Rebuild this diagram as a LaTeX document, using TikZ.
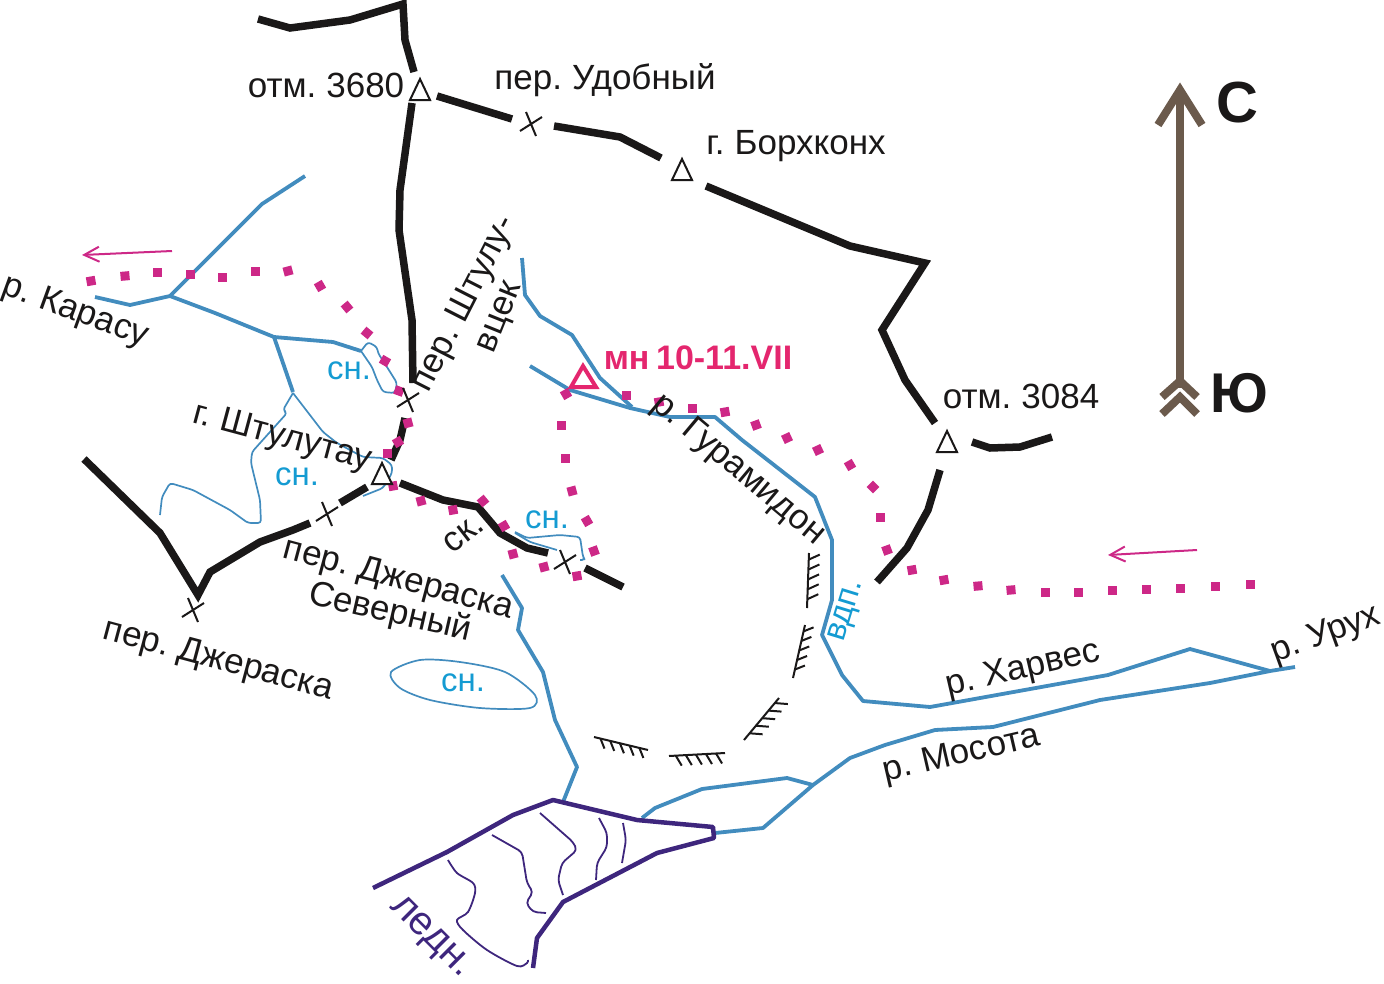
\documentclass[tikz,border=0pt]{standalone}
\usepackage{fontspec}
\setmainfont[WordSpace=0.7]{Liberation Sans}
\usetikzlibrary{arrows.meta}
\definecolor{rivercol}{RGB}{66,140,190}
\definecolor{snowcol}{RGB}{20,155,210}
\definecolor{icecol}{RGB}{62,38,125}
\definecolor{trailcol}{RGB}{205,40,135}
\definecolor{campcol}{RGB}{228,38,110}
\definecolor{compcol}{RGB}{107,90,76}
\definecolor{ridgecol}{RGB}{26,24,24}
\tikzset{
  ridge/.style={draw=ridgecol,line width=7.5pt,line join=miter},
  river/.style={draw=rivercol,line width=3.8pt,line join=round},
  thinriver/.style={draw=rivercol,line width=1.7pt,line join=round,rounded corners=3pt},
  ice/.style={draw=icecol,line width=4.5pt,line join=round},
  thinice/.style={draw=icecol,line width=1.8pt,line join=round,rounded corners=4pt},
  compass/.style={draw=compcol,line width=8pt},
  hatch/.style={draw=ridgecol,line width=2pt},
  maplabel/.style={font=\fontsize{35}{38}\selectfont,text=ridgecol,inner sep=0pt},
  snowlabel/.style={font=\fontsize{33}{36}\selectfont,text=snowcol,inner sep=0pt},
  backarrow/.style={draw=trailcol,line width=2pt,-{Straight Barb[length=15pt,width=15pt]}},
  peak/.pic={\draw[fill=white,line width=2pt,draw=ridgecol,line join=miter] (0,-11) -- (10,10) -- (-10,10) -- cycle;},
  pass/.pic={\draw[ridgecol,line width=2pt] (-11,7) -- (11,-7) (-5,-12) -- (5,12);}
}
\newcommand{\hatchline}[6]{
  \draw[hatch] (#1,#2) -- (#3,#4);
  \foreach \t in {0.12,0.3,0.48,0.66,0.84}
    \draw[hatch] ({#1+\t*(#3-#1)},{#2+\t*(#4-#2)}) -- ++(#5,#6);
}
\begin{document}
\begin{tikzpicture}[x=1pt,y=-1pt]
\useasboundingbox (0,0) rectangle (1384,983);

% rivers
\draw[river] (95,297) -- (130,305) -- (170,296) -- (262,204) -- (305,176);
\draw[river] (170,296) -- (215,313) -- (274,337) -- (333,342) -- (361,351);
\draw[river] (274,337) -- (293,392);
\draw[river] (522,258) -- (525,295) -- (540,316) -- (572,335) -- (600,378) -- (632,407);
\draw[river] (530,366) -- (570,390) -- (630,408) -- (670,417) -- (715,417) -- (742,440) -- (815,497) -- (832,540) -- (832,600) -- (822,635) -- (842,675) -- (863,701) -- (930,707) -- (1108,675) -- (1190,649) -- (1270,671);
\draw[river] (1295,667) -- (1270,671) -- (1210,683) -- (1100,700) -- (993,727) -- (935,730) -- (885,745) -- (850,758) -- (813,785) -- (763,828) -- (715,833);
\draw[river] (642,818) -- (655,808) -- (702,789) -- (787,778) -- (813,785);
\draw[river] (502,575) -- (522,608) -- (518,630) -- (543,672) -- (555,720) -- (577,767) -- (563,802);

% snow fields
\draw[thinriver] (293,393) -- (283,410) -- (287,413) -- (252,452) -- (251,463) -- (260,500) -- (261,523) -- (248,523) -- (230,510) -- (193,490) -- (170,483) -- (162,497) -- (160,515);
\draw[thinriver] (293,393) -- (323,432) -- (337,443) -- (363,457) -- (383,458) -- (392,465) -- (392,473) -- (383,488) -- (363,496);
\draw[thinriver] (361,351) -- (368,342) -- (377,347) -- (378,353) -- (387,367) -- (397,383) -- (395,393) -- (383,392) -- (377,380) -- (372,367) -- (361,351);
\draw[thinriver] (515,532) -- (527,538) -- (560,535) -- (580,537) -- (583,557) -- (585,560) -- (580,560);
\draw[thinriver] (515,533) -- (530,542) -- (557,550);
\draw[draw=rivercol,line width=1.7pt] plot[smooth cycle,tension=0.5] coordinates {(391,672) (420,660) (460,662) (505,672) (535,695) (530,708) (480,708) (430,700) (400,688)};

% glacier
\draw[ice] (373,888) -- (447,852) -- (513,815) -- (553,800) -- (637,820) -- (713,827) -- (714,838) -- (657,853) -- (563,902) -- (537,938) -- (533,968);
\draw[thinice] (540,813) -- (573,842) -- (577,850) -- (562,863) -- (558,880) -- (563,895);
\draw[thinice] (492,835) -- (522,852) -- (527,883) -- (533,892) -- (526,903) -- (533,912) -- (546,913);
\draw[draw=icecol,line width=1.8pt] plot[smooth,tension=0.5] coordinates {(448,860) (457,873) (473,883) (475,893) (468,912) (457,920) (463,930) (487,950) (517,966) (527,963) (528,960)};
\draw[thinice] (599,818) -- (607,833) -- (607,847) -- (597,863) -- (596,880);
\draw[thinice] (623,823) -- (626,840) -- (622,863);

% ridges
\draw[ridge] (258,19) -- (290,28) -- (350,20) -- (403,4) -- (405,40) -- (414,72);
\draw[ridge] (412,103) -- (400,190) -- (399,230) -- (412,320) -- (413,383);
\draw[ridge] (405,418) -- (400,440) -- (391,460);
\draw[ridge] (437,96) -- (512,119);
\draw[ridge] (554,126) -- (620,137) -- (661,158);
\draw[ridge] (706,186) -- (850,246) -- (925,263) -- (882,330) -- (905,380) -- (935,423);
\draw[ridge] (972,442) -- (990,448) -- (1020,447) -- (1052,437);
\draw[ridge] (940,470) -- (928,510) -- (907,548) -- (877,582);
\draw[ridge] (84,459) -- (160,533) -- (198,595) -- (210,572) -- (260,542) -- (293,530) -- (310,523);
\draw[ridge] (340,503) -- (367,487);
\draw[ridge] (400,483) -- (443,500) -- (478,507) -- (500,533) -- (527,548) -- (548,553);
\draw[ridge] (585,568) -- (623,587);

% trail
\foreach \x/\y/\a in {91/281/10,125/276/5,157/272/0,190/274/0,222/277/0,255/271/0,288/271/15,320/286/30,347/307/40,367/333/50,385/361/60,399/391/70,408/423/15,398/442/30,387/453/0,393/486/10,421/501/15,453/510/10,483/501/40,504/526/30,513/554/15,544/567/15,577/576/10,594/551/20,587/521/30,572/491/15,565/458/0,561/425/0,566/394/30,626/395/0,659/402/10,692/408/0,725/412/10,756/425/20,787/438/25,818/450/25,850/465/30,873/487/45,880/517/0,887/550/20,912/570/10,944/580/10,978/586/5,1011/590/5,1045/592/0,1078/592/0,1112/590/0,1146/589/0,1180/588/0,1215/586/0,1250/584/0}
  \fill[trailcol,rotate around={\a:(\x,\y)}] (\x-4.5,\y-4.5) rectangle (\x+4.5,\y+4.5);

\draw[backarrow] (172,251) -- (82,255);
\draw[backarrow] (1197,550) -- (1108,555);

% slopes
\hatchline{809}{553}{807}{608}{11}{-5}
\hatchline{805}{625}{793}{678}{10}{-4}
\hatchline{779}{698}{744}{740}{13}{1}
\hatchline{594}{737}{648}{750}{4}{10}
\hatchline{669}{756}{725}{753}{6}{10}

% summits and passes
\pic at (420,90) {peak};
\pic at (682,170) {peak};
\pic at (947,442) {peak};
\pic at (382,474) {peak};
\pic at (531,124) {pass};
\pic at (408,400) {pass};
\pic at (327,514) {pass};
\pic at (193,610) {pass};
\pic at (565,562) {pass};
\draw[campcol,line width=4pt,line join=miter] (583,366) -- (596,387) -- (571,387) -- cycle;

% compass
\draw[compass] (1180,92) -- (1180,388);
\draw[compass] (1158,125) -- (1180,90) -- (1202,125);
\draw[compass] (1162,397) -- (1180,381) -- (1197,397);
\draw[compass] (1162,414) -- (1180,397) -- (1197,414);
\node[inner sep=0pt,font=\fontsize{58}{60}\selectfont\bfseries,text=ridgecol] (north) at (1237,103) {С};
\node[inner sep=0pt,font=\fontsize{56}{60}\selectfont\bfseries,text=ridgecol] (south) at (1239,393) {Ю};

% labels
\node[maplabel] (otm1) at (326,85) {отм. 3680};
\node[maplabel] (udob) at (605,80) {пер. Удобный};
\node[maplabel] (bork) at (796,146) {г. Борхконх};
\node[maplabel] (otm2) at (1021,396) {отм. 3084};
\node[maplabel,rotate=63] (sht1) at (465,304) {пер. Штулу-};
\node[maplabel,rotate=68] (sht2) at (502,318) {вцек};
\node[maplabel,rotate=-20] (kara) at (75,312) {р. Карасу};
\node[maplabel,rotate=-15] (shtt) at (282,438) {г. Штулутау};
\node[maplabel,rotate=-15] (dzh1) at (398,580) {пер. Джераска};
\node[maplabel,rotate=-13] (sev) at (390,613) {Северный};
\node[maplabel,rotate=-15] (dzh2) at (218,661) {пер. Джераска};
\node[maplabel,rotate=38] (sk) at (464,534) {ск.};
\node[maplabel,rotate=-40] (gur) at (738,470) {р. Гурамидон};
\node[maplabel,rotate=13] (harv) at (1023,670) {р. Харвес};
\node[maplabel,rotate=13] (moso) at (962,755) {р. Мосота};
\node[maplabel,rotate=20] (uruh) at (1326,635) {р. Урух};
\node[maplabel,rotate=-45,text=icecol,font=\fontsize{40}{44}\selectfont] (ledn) at (430,938) {ледн.};
\node[snowlabel,rotate=73] (vdp) at (848,611) {вдп.};
\node[snowlabel] (sn1) at (349,371) {сн.};
\node[snowlabel] (sn2) at (297,477) {сн.};
\node[snowlabel] (sn3) at (547,520) {сн.};
\node[snowlabel] (sn4) at (463,683) {сн.};
\node[inner sep=0pt,font=\fontsize{34}{36}\selectfont\bfseries,text=campcol] (camp) at (698,358) {мн 10-11.VII};
\end{tikzpicture}
\end{document}
